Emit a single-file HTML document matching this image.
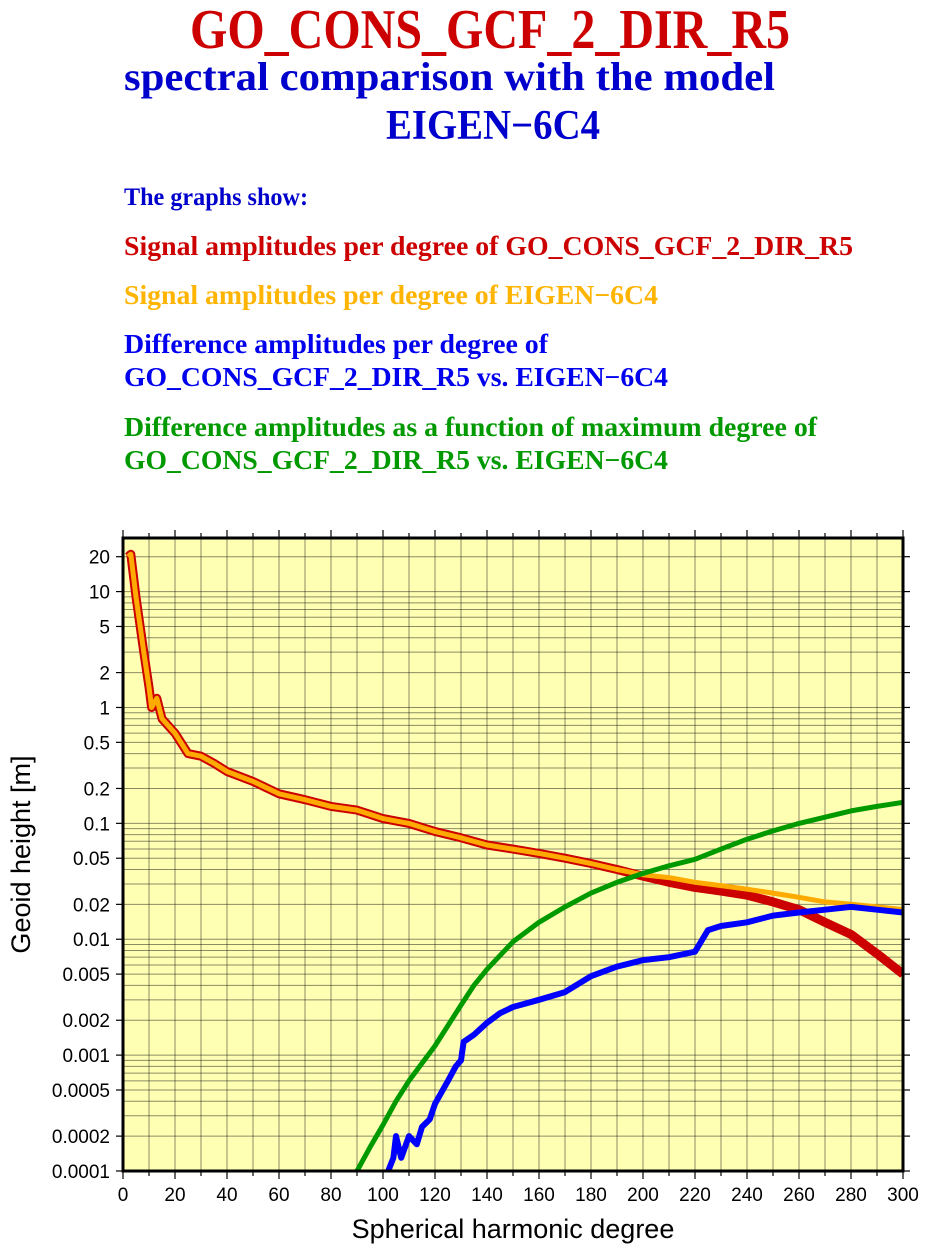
<!DOCTYPE html>
<html><head><meta charset="utf-8"><style>
html,body{margin:0;padding:0;background:#fff;}
svg{display:block;}
.t{font-family:"Liberation Serif",serif;font-weight:bold;}
.a{font-family:"Liberation Sans",sans-serif;}
</style></head><body>
<svg id="chart" width="931" height="1256" viewBox="0 0 931 1256">
<text class="t" x="190" y="48" font-size="56" fill="#cc0000" textLength="600" lengthAdjust="spacingAndGlyphs">GO_CONS_GCF_2_DIR_R5</text>
<text class="t" x="124" y="90" font-size="40" fill="#0000cc" textLength="651" lengthAdjust="spacingAndGlyphs">spectral comparison with the model</text>
<text class="t" x="386" y="139" font-size="42" fill="#0000cc" textLength="214" lengthAdjust="spacingAndGlyphs">EIGEN−6C4</text>
<text class="t" x="124" y="205" font-size="25" fill="#0000cc" textLength="184" lengthAdjust="spacingAndGlyphs">The graphs show:</text>
<text class="t" x="124" y="255" font-size="27" fill="#cc0000" textLength="729" lengthAdjust="spacingAndGlyphs">Signal amplitudes per degree of GO_CONS_GCF_2_DIR_R5</text>
<text class="t" x="124" y="304" font-size="27" fill="#ffb400" textLength="534" lengthAdjust="spacingAndGlyphs">Signal amplitudes per degree of EIGEN−6C4</text>
<text class="t" x="124" y="353" font-size="27" fill="#0000ee" textLength="424" lengthAdjust="spacingAndGlyphs">Difference amplitudes per degree of</text>
<text class="t" x="124" y="386" font-size="27" fill="#0000ee" textLength="544" lengthAdjust="spacingAndGlyphs">GO_CONS_GCF_2_DIR_R5 vs. EIGEN−6C4</text>
<text class="t" x="124" y="436" font-size="27" fill="#009900" textLength="693" lengthAdjust="spacingAndGlyphs">Difference amplitudes as a function of maximum degree of</text>
<text class="t" x="124" y="469" font-size="27" fill="#009900" textLength="544" lengthAdjust="spacingAndGlyphs">GO_CONS_GCF_2_DIR_R5 vs. EIGEN−6C4</text>
<g id="plot"></g>
</svg>
<script>
const xTicks = [0,20,40,60,80,100,120,140,160,180,200,220,240,260,280,300];
const yTickLabels = ["0.0001","0.0002","0.0005","0.001","0.002","0.005","0.01","0.02","0.05","0.1","0.2","0.5","1","2","5","10","20"];
const yTickValues = [0.0001,0.0002,0.0005,0.001,0.002,0.005,0.01,0.02,0.05,0.1,0.2,0.5,1,2,5,10,20];

const eigenDeg = [2,3,5,8,10,11,13,15,20,25,30,35,40,50,60,70,80,90,100,110,120,130,140,150,160,170,180,190,200,210,220,230,240,250,260,270,280,290,300];
const eigenVal = [20,21,9,3,1.5,1,1.2,0.8,0.6,0.4,0.38,0.33,0.28,0.23,0.18,0.16,0.14,0.13,0.11,0.1,0.085,0.075,0.065,0.06,0.055,0.05,0.045,0.04,0.036,0.034,0.031,0.029,0.027,0.025,0.023,0.021,0.02,0.019,0.018];
const goDeg = [2,3,5,8,10,11,13,15,20,25,30,35,40,50,60,70,80,90,100,110,120,130,140,150,160,170,180,190,200,210,220,230,240,250,260,270,280,290,300];
const goVal = [20,21,9,3,1.5,1,1.2,0.8,0.6,0.4,0.38,0.33,0.28,0.23,0.18,0.16,0.14,0.13,0.11,0.1,0.085,0.075,0.065,0.06,0.055,0.05,0.045,0.04,0.035,0.031,0.028,0.026,0.024,0.021,0.018,0.014,0.011,0.0075,0.005];
const diffDeg = [102,104,105,107,110,113,115,118,120,125,128,130,131,135,140,145,150,160,170,180,190,200,210,220,225,230,240,250,260,270,280,290,300];
const diffVal = [0.0001,0.00013,0.0002,0.00013,0.0002,0.00017,0.00024,0.00028,0.00038,0.0006,0.0008,0.0009,0.0013,0.0015,0.0019,0.0023,0.0026,0.003,0.0035,0.0048,0.0058,0.0066,0.007,0.0078,0.012,0.013,0.014,0.016,0.017,0.018,0.019,0.018,0.017];
const cumDeg = [90,95,100,105,110,115,120,125,130,135,140,150,160,170,180,190,200,210,220,230,240,250,260,270,280,290,300];
const cumVal = [0.0001,0.00016,0.00025,0.0004,0.0006,0.00085,0.0012,0.0018,0.0027,0.004,0.0055,0.0095,0.014,0.019,0.025,0.031,0.037,0.043,0.049,0.06,0.073,0.086,0.1,0.113,0.128,0.14,0.152];

const X0=123, X1=903, Y0=538, Y1=1171;
const LMIN=-4, LMAX=Math.log10(29);
function sx(d){return X0+(d/300)*(X1-X0);}
function sy(v){return Y1-(Math.log10(v)-LMIN)/(LMAX-LMIN)*(Y1-Y0);}
const NS="http://www.w3.org/2000/svg";
const g=document.getElementById('plot');
function mk(tag,attrs,parent){const e=document.createElementNS(NS,tag);for(const k in attrs)e.setAttribute(k,attrs[k]);(parent||g).appendChild(e);return e;}

const bg=mk('rect',{x:X0,y:Y0,width:X1-X0,height:Y1-Y0,fill:'#ffffb4'});



const grid=mk('g',{stroke:'#000','stroke-opacity':'0.45','stroke-width':'1'});


for(let d=10;d<300;d+=10){mk('line',{x1:sx(d),x2:sx(d),y1:Y0,y2:Y1},grid);}
for(let e=-4;e<=1;e++){for(let m=1;m<=9;m++){const v=m*Math.pow(10,e);if(Math.log10(v)>LMAX)continue;const y=sy(v);if(y>=Y1-0.5)continue;mk('line',{x1:X0,x2:X1,y1:y,y2:y},grid);}}

const ax=mk('g',{stroke:'#000','stroke-width':'1.2'});


for(let d=0;d<=300;d+=10){const L=(d%20===0)?8:5;mk('line',{x1:sx(d),x2:sx(d),y1:Y1,y2:Y1+L},ax);mk('line',{x1:sx(d),x2:sx(d),y1:Y0,y2:Y0-L},ax);}
yTickValues.forEach(v=>{const y=sy(v);mk('line',{x1:X0-7,x2:X0,y1:y,y2:y},ax);mk('line',{x1:X1,x2:X1+7,y1:y,y2:y},ax);});

const clip=mk('clipPath',{id:'pc'});mk('rect',{x:X0,y:Y0,width:X1-X0,height:Y1-Y0},clip);
const cg=mk('g',{'clip-path':'url(#pc)'});
function seriesIn(deg,val,color,w,name){
  let p='';deg.forEach((d,i)=>{p+=(i?'L':'M')+sx(d).toFixed(1)+','+sy(val[i]).toFixed(1);});
  const e=mk('path',{d:p,fill:'none',stroke:color,'stroke-width':w,'stroke-linejoin':'round'},cg);
  
  
}
seriesIn(goDeg,goVal,'#cc0000',9,'series-signal-go');
seriesIn(eigenDeg,eigenVal,'#ffaa00',5,'series-signal-eigen');
seriesIn(cumDeg,cumVal,'#009900',5,'series-cumulative-difference');
seriesIn(diffDeg,diffVal,'#0000ff',6,'series-difference-per-degree');

const frame=mk('rect',{x:X0,y:Y0,width:X1-X0,height:Y1-Y0,fill:'none',stroke:'#000','stroke-width':'3'});



xTicks.forEach(d=>{const t=mk('text',{x:sx(d),y:1201,'font-size':'19','text-anchor':'middle',class:'a',fill:'#000'});t.textContent=d;

});
yTickValues.forEach((v,i)=>{const t=mk('text',{x:X0-13,y:sy(v)+7,'font-size':'19','text-anchor':'end',class:'a',fill:'#000'});t.textContent=yTickLabels[i];

});

const xt=mk('text',{x:(X0+X1)/2,y:1238,'font-size':'27','text-anchor':'middle',class:'a',fill:'#000'});xt.textContent='Spherical harmonic degree';


const yt=mk('text',{x:0,y:0,'font-size':'27','text-anchor':'middle',class:'a',fill:'#000',transform:'translate(30,'+((Y0+Y1)/2)+') rotate(-90)'});yt.textContent='Geoid height [m]';


</script>
</body></html>
